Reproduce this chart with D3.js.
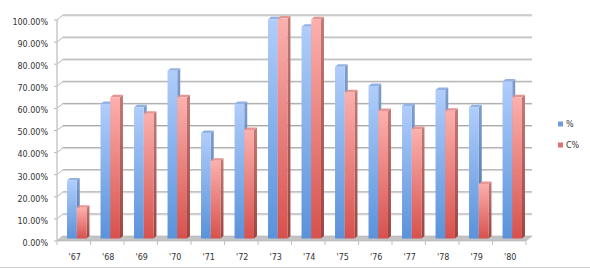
<!DOCTYPE html>
<html>
<head>
<meta charset="utf-8">
<script src="https://cdn.jsdelivr.net/npm/d3@7"></script>
<style>
  body { margin: 0; background: #fff; }
  svg { display: block; font-family: "DejaVu Sans", Verdana, sans-serif; }
</style>
</head>
<body>
<svg id="chart" width="590" height="269"></svg>
<script>
// data
var years = ["'67", "'68", "'69", "'70", "'71", "'72", "'73", "'74", "'75", "'76", "'77", "'78", "'79", "'80"];
var pct = [0.262, 0.609, 0.594, 0.759, 0.477, 0.609, 0.992, 0.958, 0.777, 0.690, 0.600, 0.672, 0.594, 0.710];
var cpct = [0.139, 0.639, 0.565, 0.639, 0.352, 0.491, 0.995, 0.992, 0.662, 0.577, 0.495, 0.578, 0.247, 0.639];
var yTicks = [0, 0.1, 0.2, 0.3, 0.4, 0.5, 0.6, 0.7, 0.8, 0.9, 1.0];
var seriesNames = ["%", "C%"];

var svg = d3.select("#chart");

// depth of the 3d box (front plane -> back wall)
var depthX = 6, depthY = -5;
// bars sit half way in
var barShiftX = 3, barShiftY = -2.5;
// bar's own depth
var bdx = 3, bdy = -2.5;

var x = d3.scaleBand().domain(years).range([57, 526]);
var y = d3.scaleLinear().domain([0, 1]).range([241, 20]);
var inner = d3.scaleBand().domain(seriesNames).range([0.21, 0.79]).paddingInner(0).paddingOuter(0.0);

var defs = svg.append("defs");
function grad(id, top, bottom) {
  var g = defs.append("linearGradient").attr("id", id)
    .attr("x1", 0).attr("y1", 0).attr("x2", 0).attr("y2", 1);
  g.append("stop").attr("offset", "0%").attr("stop-color", top);
  g.append("stop").attr("offset", "100%").attr("stop-color", bottom);
}
grad("gBlue", "#b0cdfb", "#5a92da");
grad("gRed", "#fcb0ad", "#d7514d");
grad("gBlueSide", "#7f9ccc", "#4a6fa6");
grad("gRedSide", "#c27a77", "#9c4442");

var styles = [
  { front: "url(#gBlue)", side: "url(#gBlueSide)", top: "#92b2e6", legend: "#6f9be0" },
  { front: "url(#gRed)", side: "url(#gRedSide)", top: "#e79592", legend: "#e2706d" }
];

// back wall gridlines + diagonals to the front axis
var grid = svg.append("g");
yTicks.forEach(function (t) {
  var yf = y(t), yb = y(t) + depthY;
  if (t > 0) {
    grid.append("line")
      .attr("x1", x.range()[0] + depthX).attr("x2", x.range()[1] + depthX)
      .attr("y1", yb + 1).attr("y2", yb + 1)
      .attr("stroke", "#dcdcdc").attr("stroke-width", 1);
    grid.append("line")
      .attr("x1", x.range()[0] + depthX).attr("x2", x.range()[1] + depthX)
      .attr("y1", yb).attr("y2", yb)
      .attr("stroke", "#a9a9a9").attr("stroke-width", 1);
  }
  grid.append("line")
    .attr("x1", x.range()[0]).attr("y1", yf)
    .attr("x2", x.range()[0] + depthX).attr("y2", yb)
    .attr("stroke", "#b5b5b5");
  grid.append("line")
    .attr("x1", x.range()[0] - 3).attr("x2", x.range()[0])
    .attr("y1", yf).attr("y2", yf)
    .attr("stroke", "#b5b5b5");
});

// floor
var x0 = x.range()[0], x1 = x.range()[1], yb0 = y(0);
svg.append("path")
  .attr("d", "M" + x0 + "," + yb0 + "L" + x1 + "," + yb0 +
    "L" + (x1 + depthX) + "," + (yb0 + depthY) + "L" + (x0 + depthX) + "," + (yb0 + depthY) + "Z")
  .attr("fill", "#c4c4c4").attr("stroke", "#b0b0b0").attr("stroke-width", 0.6);

// front vertical axis
svg.append("line")
  .attr("x1", x0).attr("x2", x0).attr("y1", y(1)).attr("y2", y(0))
  .attr("stroke", "#c8c8c8").attr("stroke-width", 1.5);

// category ticks
svg.append("g").selectAll("line")
  .data(years.concat(["end"]))
  .join("line")
  .attr("x1", function (d) { return d === "end" ? x1 : x(d); })
  .attr("x2", function (d) { return d === "end" ? x1 : x(d); })
  .attr("y1", y(0)).attr("y2", y(0) + 4)
  .attr("stroke", "#c0c0c0");

// bars
var bars = svg.append("g");
years.forEach(function (yr, i) {
  [pct[i], cpct[i]].forEach(function (v, s) {
    var st = styles[s];
    var bw = inner.bandwidth() * x.bandwidth();
    var bx = x(yr) + inner(seriesNames[s]) * x.bandwidth() + barShiftX;
    var by = y(v) + barShiftY;
    var bb = y(0) + barShiftY;
    // side
    bars.append("path")
      .attr("d", "M" + (bx + bw) + "," + by + "L" + (bx + bw + bdx) + "," + (by + bdy) +
        "L" + (bx + bw + bdx) + "," + (bb + bdy) + "L" + (bx + bw) + "," + bb + "Z")
      .attr("fill", st.side);
    // top
    bars.append("path")
      .attr("d", "M" + bx + "," + by + "L" + (bx + bdx) + "," + (by + bdy) +
        "L" + (bx + bw + bdx) + "," + (by + bdy) + "L" + (bx + bw) + "," + by + "Z")
      .attr("fill", st.top);
    // front
    bars.append("rect")
      .attr("x", bx).attr("y", by)
      .attr("width", bw).attr("height", bb - by)
      .attr("fill", st.front);
  });
});

// y labels
svg.append("g").selectAll("text")
  .data(yTicks)
  .join("text")
  .attr("x", 48).attr("y", function (d) { return y(d) + 2; })
  .attr("dy", "0.35em")
  .attr("text-anchor", "end")
  .attr("font-size", 8)
  .attr("fill", "#333")
  .text(function (d) { return d3.format(".2f")(d * 100) + "%"; });

// x labels
svg.append("g").selectAll("text")
  .data(years)
  .join("text")
  .attr("x", function (d) { return x(d) + x.bandwidth() / 2 + 1; })
  .attr("y", 257)
  .attr("dy", "0.35em")
  .attr("text-anchor", "middle")
  .attr("font-size", 8)
  .attr("fill", "#333")
  .text(function (d) { return d; });

// legend
var legend = svg.append("g").selectAll("g")
  .data(seriesNames)
  .join("g")
  .attr("transform", function (d, i) { return "translate(558," + (121.5 + i * 21) + ")"; });
legend.append("rect")
  .attr("width", 5).attr("height", 5)
  .attr("fill", function (d, i) { return styles[i].legend; });
legend.append("text")
  .attr("x", 8).attr("y", 2.5).attr("dy", "0.35em")
  .attr("font-size", 8).attr("fill", "#333")
  .text(function (d) { return d; });

// chart border at the bottom
svg.append("line")
  .attr("x1", 0).attr("x2", 590).attr("y1", 267.5).attr("y2", 267.5)
  .attr("stroke", "#d0d0d0");
</script>
</body>
</html>
